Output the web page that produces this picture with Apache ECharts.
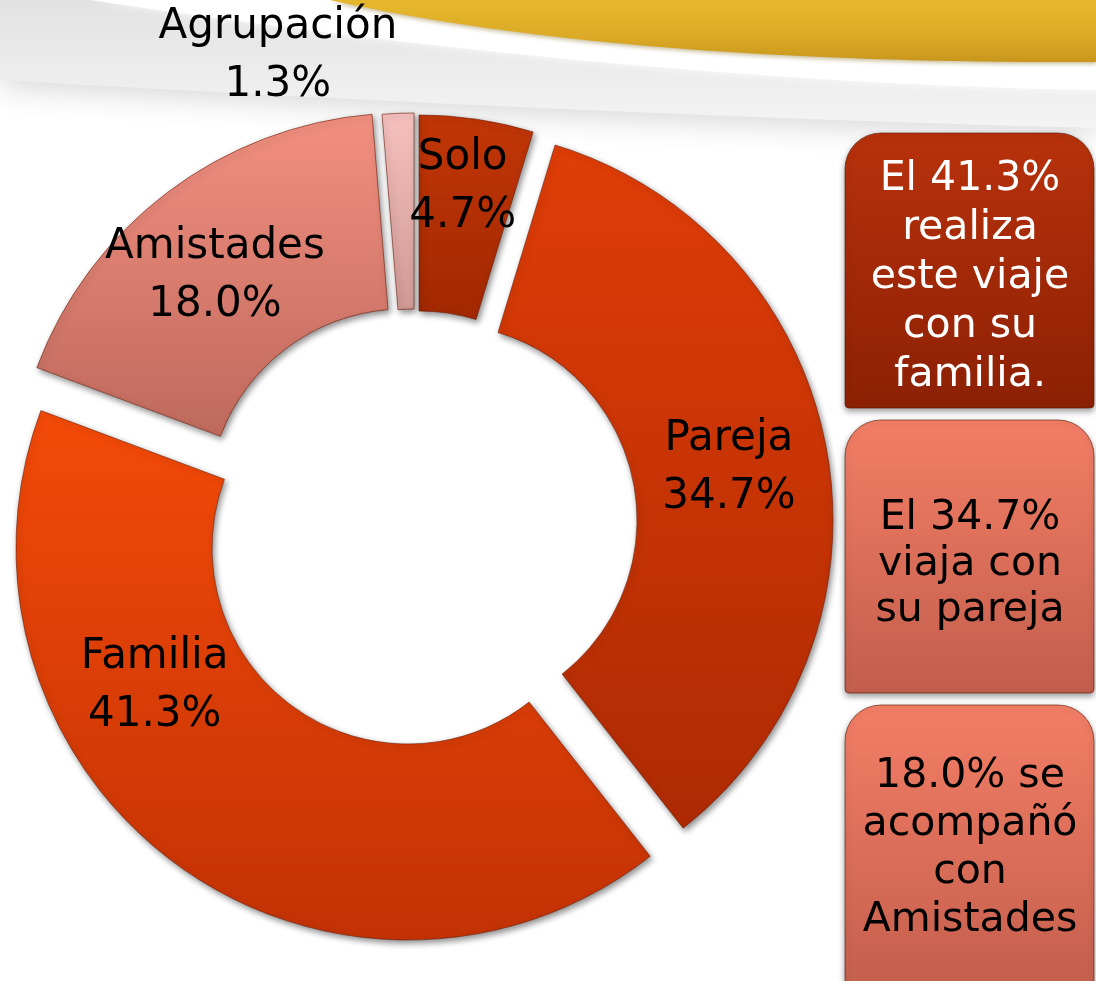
<!DOCTYPE html>
<html>
<head>
<meta charset="utf-8">
<script src="https://cdn.jsdelivr.net/npm/echarts@6/dist/echarts.min.js"></script>
<style>
  html, body { margin: 0; padding: 0; background: #fff; }
  #main { width: 1096px; height: 981px; }
</style>
</head>
<body>
<div id="main"></div>
<script>
// --- datos ---
var categorias = ['Solo', 'Pareja', 'Familia', 'Amistades', 'Agrupación'];
var porcentajes = [4.7, 34.7, 41.3, 18.0, 1.3];

// --- layout (centro base + desplazamiento de cada porción) ---
var centro = [414, 508];
var despl = [[5, -1], [27, 12], [-6, 40], [-10, -3], [0, -3]];
var moverEtiqueta = [[0, -26], [-4, 3], [-78, -102], [-10, 8], [-124, -152]];
var colores = [
  ['#c23607', '#a12800'],
  ['#e03d07', '#ae2a03'],
  ['#f44a08', '#c23205'],
  ['#f29080', '#bf695d'],
  ['#f6c0bd', '#cf9995']
];

function fmt(v) { return v.toFixed(1) + '%'; }
function grad(c) {
  return { type: 'linear', x: 0, y: 0, x2: 0, y2: 1,
    colorStops: [{ offset: 0, color: c[0] }, { offset: 1, color: c[1] }] };
}
// curva cuadrática de (x0,y0) a (x1,y1) con control (cx,cy), cerrada por arriba
function franja(x0, y0, cx, cy, x1, y1) {
  var pts = [];
  for (var k = 0; k <= 40; k++) {
    var t = k / 40, u = 1 - t;
    pts.push([u * u * x0 + 2 * u * t * cx + t * t * x1, u * u * y0 + 2 * u * t * cy + t * t * y1]);
  }
  pts.push([1096, 0]);
  pts.push([x0, 0]);
  return pts;
}

var oculto = { color: 'rgba(0,0,0,0)', borderWidth: 0, shadowBlur: 0, shadowColor: 'rgba(0,0,0,0)' };

var series = categorias.map(function (cat, i) {
  return {
    type: 'pie',
    center: [centro[0] + despl[i][0], centro[1] + despl[i][1]],
    radius: [196, 392],
    startAngle: 90,
    clockwise: true,
    silent: true,
    animation: false,
    avoidLabelOverlap: false,
    labelLine: { show: false },
    label: {
      position: 'inside',
      formatter: function (p) { return p.name + '\n' + fmt(p.value); },
      fontSize: 42,
      fontFamily: 'DejaVu Sans',
      color: '#000',
      lineHeight: 58,
      textBorderWidth: 0
    },
    labelLayout: function () {
      return { dx: moverEtiqueta[i][0], dy: moverEtiqueta[i][1] };
    },
    data: categorias.map(function (n, j) {
      return {
        name: n,
        value: porcentajes[j],
        label: { show: j === i },
        itemStyle: j === i ? {
          color: grad(colores[i]),
          borderColor: 'rgba(110,30,10,0.6)',
          borderWidth: 1,
          shadowBlur: 6,
          shadowColor: 'rgba(0,0,0,0.45)',
          shadowOffsetX: 2,
          shadowOffsetY: 3
        } : oculto
      };
    })
  };
});

// textos de los recuadros
var idx = function (n) { return porcentajes[categorias.indexOf(n)]; };
var cajas = [
  { y: 133, h: 275, cy: 277, c: ['#b8320c', '#8c2004'], txt: 'El ' + fmt(idx('Familia')) + '\nrealiza\neste viaje\ncon su\nfamilia.', color: '#fff', lh: 49 },
  { y: 420, h: 273, cy: 564, c: ['#f47e66', '#c25e4c'], txt: 'El ' + fmt(idx('Pareja')) + '\nviaja con\nsu pareja', color: '#000', lh: 46 },
  { y: 705, h: 290, cy: 848, c: ['#f47e66', '#c25e4c'], txt: fmt(idx('Amistades')) + ' se\nacompañó\ncon\nAmistades', color: '#000', lh: 48 }
];

var graficos = [
  { type: 'polygon', z: 0, shape: { points: franja(0, 80, 600, 115, 1096, 128).concat([[0, 0]]) },
    style: { fill: { type: 'linear', x: 0, y: 0, x2: 0, y2: 1,
      colorStops: [{ offset: 0, color: '#e2e2e2' }, { offset: 1, color: '#f4f4f4' }] },
      shadowBlur: 30, shadowColor: 'rgba(0,0,0,0.16)', shadowOffsetY: 6 } },
  { type: 'polygon', z: 0, shape: { points: franja(90, 0, 640, 82, 1096, 90) },
    style: { fill: '#ffffff', shadowBlur: 8, shadowColor: 'rgba(255,255,255,0.9)' } },
  { type: 'polygon', z: 0, shape: { points: franja(330, 0, 620, 64, 1096, 62) },
    style: { fill: { type: 'linear', x: 0, y: 0, x2: 0, y2: 1,
      colorStops: [{ offset: 0, color: '#e6b72c' }, { offset: 0.6, color: '#dcaa26' }, { offset: 1, color: '#c8961c' }] },
      shadowBlur: 4, shadowColor: 'rgba(120,90,0,0.4)', shadowOffsetY: 2 } }
];

cajas.forEach(function (b) {
  graficos.push({
    type: 'rect', z: 5,
    shape: { x: 845, y: b.y, width: 249, height: b.h, r: [36, 36, 4, 4] },
    style: { fill: grad(b.c), stroke: 'rgba(90,20,0,0.6)', lineWidth: 1,
      shadowBlur: 6, shadowColor: 'rgba(0,0,0,0.4)', shadowOffsetY: 3 }
  });
  graficos.push({
    type: 'text', z: 6,
    x: 970, y: b.cy,
    style: { text: b.txt, fill: b.color, font: '41px "DejaVu Sans"',
      align: 'center', verticalAlign: 'middle', textAlign: 'center', textVerticalAlign: 'middle',
      lineHeight: b.lh }
  });
});

var chart = echarts.init(document.getElementById('main'));
chart.setOption({
  backgroundColor: '#ffffff',
  animation: false,
  graphic: graficos,
  series: series
});
</script>
</body>
</html>
